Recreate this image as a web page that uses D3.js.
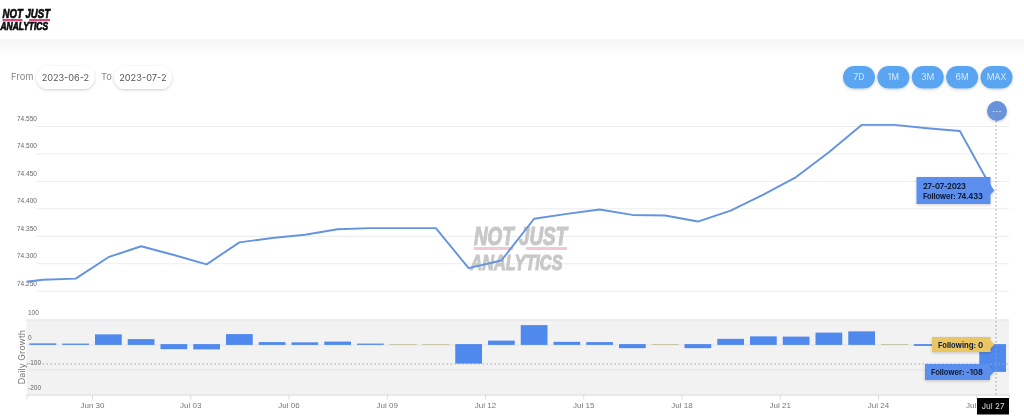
<!DOCTYPE html>
<html>
<head>
<meta charset="utf-8">
<script src="https://cdnjs.cloudflare.com/ajax/libs/d3/7.8.5/d3.min.js"></script>
<style>
html,body{margin:0;padding:0;background:#fff;overflow:hidden}
svg{display:block;font-family:"Inter","Noto Sans",sans-serif;filter:blur(0.35px)}
</style>
</head>
<body>
<svg id="c" width="1024" height="419"></svg>
<script>
// ---- data ----
const firstDay = "2023-06-27";
const followers = [74263,74270,74272,74311,74331,74315,74298,74338,74346,74352,74362,74364,74364,74364,74291,74305,74381,74390,74398,74388,74387,74376,74396,74425,74457,74502,74552,74552,74546,74541,74433];
const barDays = ["2023-06-28","2023-06-29","2023-06-30","2023-07-01","2023-07-02","2023-07-03","2023-07-04","2023-07-05","2023-07-06","2023-07-07","2023-07-08","2023-07-09","2023-07-10","2023-07-11","2023-07-12","2023-07-13","2023-07-14","2023-07-15","2023-07-16","2023-07-17","2023-07-18","2023-07-19","2023-07-20","2023-07-21","2023-07-22","2023-07-23","2023-07-24","2023-07-25","2023-07-26","2023-07-27"];
const followerGrowth = [3,2,39,20,-17,-18,40,8,7,10,2,0,0,-75,14,76,9,8,-13,0,-13,21,31,30,46,51,0,-4,-6,-108];
const followingGrowth = [0,0,0,0,0,0,0,0,0,0,0,1,1,0,0,0,0,0,0,1,0,0,0,0,0,0,1,0,0,0];
const topTicks = [74250,74300,74350,74400,74450,74500,74550];
const bottomTicks = [100,0,-100,-200];
const xTickDays = ["2023-06-30","2023-07-03","2023-07-06","2023-07-09","2023-07-12","2023-07-15","2023-07-18","2023-07-21","2023-07-24","2023-07-27"];
const rangeButtons = ["7D","1M","3M","6M","MAX"];
const fromDate = "2023-06-28", toDate = "2023-07-28";

// ---- layout ----
const parse = d3.utcParse("%Y-%m-%d");
const DAY = 864e5, L = 26.5, R = 1009;
const svg = d3.select("#c");
const defs = svg.append("defs");

const x = d3.scaleUtc().domain([parse("2023-06-28"), parse("2023-07-28")]).range([L, R]);
const yTop = d3.scaleLinear().domain([74250,74550]).range([290.7,126]);
const yBot = d3.scaleLinear().domain([-200,100]).range([394.5,319.5]);

// header band
const grad = defs.append("linearGradient").attr("id","hdr").attr("x1",0).attr("x2",0).attr("y1",0).attr("y2",1);
grad.append("stop").attr("offset",0).attr("stop-color","#f5f5f5");
grad.append("stop").attr("offset",1).attr("stop-color","#ffffff");
svg.append("rect").attr("x",0).attr("y",39).attr("width",1024).attr("height",18).attr("fill","url(#hdr)");

const shadow = defs.append("filter").attr("id","sh").attr("x","-20%").attr("y","-30%").attr("width","140%").attr("height","170%");
shadow.append("feDropShadow").attr("dx",0).attr("dy",1).attr("stdDeviation",1.4).attr("flood-color","#000").attr("flood-opacity",0.2);

// logo helper
function logo(g, x0, y1, w1, fs, x1, y2, w2, fs2, barY, barH, col, pink, sw){
  const base = {"font-family":"'Liberation Sans',Arial,sans-serif","font-weight":700,"font-style":"italic","fill":col,"stroke":col,"stroke-width":sw,"lengthAdjust":"spacingAndGlyphs"};
  g.append("rect").attr("x",x0).attr("y",barY).attr("width",w1*0.42).attr("height",barH).attr("fill",pink);
  g.append("rect").attr("x",x0+w1*0.56).attr("y",barY).attr("width",w1*0.44).attr("height",barH).attr("fill",pink);
  const t1 = g.append("text").attr("x",x0).attr("y",y1).attr("textLength",w1).attr("font-size",fs).text("NOT JUST");
  const t2 = g.append("text").attr("x",x1).attr("y",y2).attr("textLength",w2).attr("font-size",fs2).text("ANALYTICS");
  [t1,t2].forEach(t=>Object.entries(base).forEach(([k,v])=>t.attr(k,v)));
}
logo(svg.append("g"),2.5,18.2,47.5,13.5,0.5,30,47.5,10.5,19,2.2,"#0b0b0b","#e0457f",0.7);

// date controls
svg.append("text").attr("x",11).attr("y",80.2).attr("font-size",9.4).attr("fill","#888").text("From");
svg.append("text").attr("x",101).attr("y",80.2).attr("font-size",9.4).attr("fill","#888").text("To");
[[36.5,fromDate],[114,toDate]].forEach(([px,val],i)=>{
  svg.append("rect").attr("x",px).attr("y",66).attr("width",58).attr("height",23).attr("rx",11.5).attr("fill","#fff").attr("filter","url(#sh)");
  defs.append("clipPath").attr("id","pill"+i).append("rect").attr("x",px+5).attr("y",66).attr("width",47.5).attr("height",23);
  svg.append("text").attr("x",px+5.2).attr("y",80.5).attr("font-size",9.2).attr("fill","#555")
    .attr("textLength",53).attr("clip-path","url(#pill"+i+")").text(val);
});

// range buttons
const btnX = d3.scaleBand().domain(rangeButtons).range([843,1012.5]).paddingInner(0.07);
const btn = svg.selectAll("g.btn").data(rangeButtons).join("g").attr("class","btn");
btn.append("rect").attr("x",d=>btnX(d)).attr("y",66).attr("width",btnX.bandwidth()).attr("height",22.5).attr("rx",11.25).attr("fill","#5aa5f2").attr("filter","url(#sh)");
btn.append("text").attr("x",d=>btnX(d)+btnX.bandwidth()/2).attr("y",80.3).attr("text-anchor","middle").attr("font-size",8.6).attr("fill","#d3e7fc").text(d=>d);

// top axis + grid
const gt = svg.append("g").attr("transform",`translate(${L},0)`)
  .call(d3.axisLeft(yTop).tickValues(topTicks).tickSize(-(R-L)).tickFormat(d=>d3.format(",")(d).replace(",",".")));
gt.select(".domain").remove();
gt.selectAll(".tick line").attr("x1",R-L).attr("x2",10).attr("stroke","#ececec");
gt.selectAll(".tick text").attr("x",-9.5).attr("y",-5.5).attr("dy",0).attr("text-anchor","start").attr("font-size",6.5).attr("fill","#666");

// watermark under the line
logo(svg.append("g").attr("opacity",0.95),474,245.2,93,25,470.5,269.5,92,22,247,3,"#c6c6c6","#f3c6d3",1.2);

// follower line, clipped to the plot
defs.append("clipPath").attr("id","plot").append("rect").attr("x",L).attr("y",100).attr("width",R-L).attr("height",200);
const lineDates = followers.map((_,i)=>new Date(+parse(firstDay)+i*DAY+DAY/2));
svg.append("path").datum(followers).attr("clip-path","url(#plot)")
  .attr("fill","none").attr("stroke","#6494e0").attr("stroke-width",1.9).attr("stroke-linejoin","round")
  .attr("d",d3.line().x((d,i)=>x(lineDates[i])).y(d=>yTop(d)));

// bottom pane
svg.append("rect").attr("x",L).attr("y",yBot(100)).attr("width",R-L).attr("height",yBot(-200)-yBot(100)).attr("fill","#f2f2f2");
const gb = svg.append("g").attr("transform",`translate(${L},0)`)
  .call(d3.axisLeft(yBot).tickValues(bottomTicks).tickSize(-(R-L)).tickFormat(d=>d));
gb.select(".domain").remove();
gb.selectAll(".tick line").attr("stroke","#e4e4e4");
gb.selectAll(".tick text").attr("x",1.5).attr("y",-5.5).attr("dy",0).attr("text-anchor","start").attr("font-size",6.5).attr("fill","#666");
svg.append("text").attr("transform","translate(25,357) rotate(-90)").attr("text-anchor","middle").attr("font-size",9).attr("fill","#777").text("Daily Growth");

// bars
const bInset = 3;
const barBox = d=>{const a=parse(d);return [x(a)+bInset,x(new Date(+a+DAY))-bInset];};
svg.append("g").selectAll("rect").data(barDays).join("rect")
  .attr("x",d=>barBox(d)[0]).attr("width",d=>barBox(d)[1]-barBox(d)[0])
  .attr("y",(d,i)=>Math.min(yBot(0),yBot(followerGrowth[i]))-0.4)
  .attr("height",(d,i)=>Math.abs(yBot(followerGrowth[i])-yBot(0))+0.8)
  .attr("fill",(d,i)=>followerGrowth[i]===0?"#a9b7cc":"#5089ee");
svg.append("g").selectAll("rect").data(barDays.filter((d,i)=>followingGrowth[i]>0)).join("rect")
  .attr("x",d=>barBox(d)[0]).attr("width",d=>barBox(d)[1]-barBox(d)[0])
  .attr("y",yBot(0)-0.5).attr("height",0.6).attr("fill","#e6c56b").attr("opacity",.7);

// date axis
const gx = svg.append("g").attr("transform",`translate(0,${yBot(-200)})`)
  .call(d3.axisBottom(x).tickValues(xTickDays.map(parse)).tickSize(5).tickPadding(3).tickFormat(d3.utcFormat("%b %d")));
gx.select(".domain").attr("stroke","#e2e2e2");
gx.selectAll(".tick line").attr("stroke","#dcdcdc");
gx.selectAll(".tick text").attr("font-size",8).attr("fill","#777");

// crosshair
const hoverDay = parse("2023-07-27");
const crossX = 996, crossY = 364;
svg.append("line").attr("x1",crossX).attr("x2",crossX).attr("y1",101).attr("y2",397).attr("stroke","#9a9a9a").attr("stroke-width",1).attr("stroke-dasharray","1.5 2.5");
svg.append("line").attr("x1",L).attr("x2",R).attr("y1",crossY).attr("y2",crossY).attr("stroke","#a8a8a8").attr("stroke-width",1).attr("stroke-dasharray","1.5 2.5");
svg.append("circle").attr("cx",997).attr("cy",111).attr("r",10).attr("fill","#6a92d8").attr("filter","url(#sh)");
svg.append("text").attr("x",997).attr("y",113.5).attr("text-anchor","middle").attr("font-size",7).attr("fill","#dfe8f7").text("---");

// crosshair date label
svg.append("rect").attr("x",977).attr("y",398).attr("width",32).attr("height",16.5).attr("fill","#000");
svg.append("text").attr("x",993).attr("y",409.3).attr("text-anchor","middle").attr("font-size",8).attr("fill","#ddd").text(d3.utcFormat("%b %d")(hoverDay));

// tooltips
const tip = (x0,y0,w,h,col,lines,tx,ty,tw)=>{
  const g = svg.append("g").attr("filter","url(#sh)");
  g.append("path").attr("fill",col).attr("d",`M${x0},${y0}H${x0+w}V${y0+h/2-4}L${x0+w+4},${y0+h/2}L${x0+w},${y0+h/2+4}V${y0+h}H${x0}Z`);
  lines.forEach((t,i)=>svg.append("text").attr("x",tx).attr("y",ty[i]).attr("textLength",tw[i])
    .attr("font-size",7.6).attr("font-weight",700).attr("fill","#101c38").text(t));
};
const last = followers.length-1;
tip(916.5,177,74,27,"#5b8eee",["27-07-2023","Follower: "+d3.format(",")(followers[last]).replace(",",".")],923,[188.5,199],[43,60]);
tip(932,337,58.5,15,"#eac664",["Following: "+followingGrowth[followingGrowth.length-1]],938,[348],[45]);
tip(925,364,65,16,"#5b8eee",["Follower: "+followerGrowth[followerGrowth.length-1]],931,[375],[52]);
</script>
</body>
</html>
